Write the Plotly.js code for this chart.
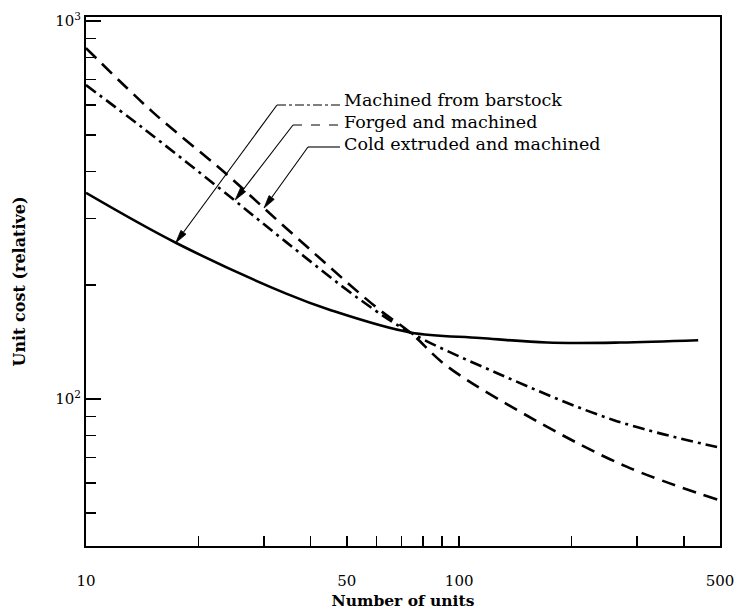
<!DOCTYPE html>
<html>
<head>
<meta charset="utf-8">
<script src="https://cdn.plot.ly/plotly-3.0.1.min.js"></script>
<style>html,body{margin:0;padding:0;background:#fff;}#chart{width:738px;height:615px;}</style>
</head>
<body>
<div id="chart"></div>
<script>
// Data (log-log)
var barstockX = [10, 17.4, 34.4, 45.1, 73.9, 113.8, 172, 270, 437];
var barstockY = [351, 259, 190, 172, 150, 145, 141, 141, 143];

var forgedX = [10, 14.2, 22.7, 34.4, 54.3, 73.9, 126.5, 258.8, 491];
var forgedY = [677, 521, 362, 260, 183, 150, 117, 88, 74.6];

var coldX = [10, 15.1, 23.4, 34.4, 60.3, 73.9, 92.9, 164.8, 282, 494];
var coldY = [848, 574, 399, 283, 174, 150, 122, 86.4, 66.1, 54.1];

var seriesNames = ["Machined from barstock", "Forged and machined", "Cold extruded and machined"];
// arrow tip points on each curve (data values)
var calloutX = [17.4, 25.1, 30.0];
var calloutY = [259, 336, 320];

var xTickVals = [10, 50, 100, 500];
var xTickText = ["10", "50", "100", "500"];
var xMinorVals = [20, 30, 40, 50, 60, 70, 80, 90, 100, 200, 300, 400];
var yTickVals = [100, 1000];
var yTickText = ["10<sup>2</sup>", "10<sup>3</sup>"];
var yMinorVals = [50, 60, 70, 80, 90, 200, 300, 400, 500, 600, 700, 800, 900];

var serif = "DejaVu Serif, Liberation Serif, serif";

var traces = [
  {x: barstockX, y: barstockY, mode: "lines", name: seriesNames[0],
   line: {color: "#000", width: 2.6, shape: "spline", smoothing: 1}},
  {x: forgedX, y: forgedY, mode: "lines", name: seriesNames[1],
   line: {color: "#000", width: 2.6, shape: "spline", smoothing: 1, dash: "12px,5px,3px,5px"}},
  {x: coldX, y: coldY, mode: "lines", name: seriesNames[2],
   line: {color: "#000", width: 2.6, shape: "spline", smoothing: 1, dash: "14px,8px"}}
];

var W = 738, H = 615, L = 86, R = 18, T = 17, B = 69;
var pw = W - L - R, ph = H - T - B;
var XR = [1, Math.log10(500)], YR = [1.611, 3.0106];
function px(x){ return (x - L) / pw; }
function py(y){ return (H - B - y) / ph; }

// callout geometry: bend point (px) and label rows
var bendPX = [[277,105],[293,125],[308,147]];
var labelY = [100, 122, 144];
var leaderDash = ["dashdot", "dash", "solid"];

var annotations = [];
var shapes = [];
for (var i = 0; i < 3; i++) {
  var tx = L + (Math.log10(calloutX[i]) - XR[0]) / (XR[1] - XR[0]) * pw;
  var ty = T + (YR[1] - Math.log10(calloutY[i])) / (YR[1] - YR[0]) * ph;
  var bx = bendPX[i][0], by = bendPX[i][1];
  var dx = tx - bx, dy = ty - by, d = Math.sqrt(dx*dx + dy*dy);
  var ux = dx / d, uy = dy / d, alen = 13, aw = 3.2;
  var baseX = tx - ux*alen, baseY = ty - uy*alen;
  shapes.push({type: "line", xref: "paper", yref: "paper",
    x0: px(bx), y0: py(by), x1: px(baseX), y1: py(baseY),
    line: {color: "#000", width: 1.1}});
  var p1x = baseX - uy*aw, p1y = baseY + ux*aw, p2x = baseX + uy*aw, p2y = baseY - ux*aw;
  shapes.push({type: "path", xref: "paper", yref: "paper",
    path: "M" + px(tx) + "," + py(ty) + " L" + px(p1x) + "," + py(p1y) + " L" + px(p2x) + "," + py(p2y) + " Z",
    fillcolor: "#000", line: {color: "#000", width: 0.8}});
  shapes.push({type: "line", xref: "paper", yref: "paper",
    x0: px(bx), x1: px(340), y0: py(by), y1: py(by),
    line: {color: "#000", width: 1.1, dash: leaderDash[i]}});
  annotations.push({
    xref: "paper", yref: "paper", x: px(342), y: py(labelY[i]),
    xanchor: "left", yanchor: "middle", showarrow: false, text: seriesNames[i],
    font: {family: serif, size: 17.5, color: "#000"}
  });
}

var layout = {
  width: W, height: H,
  margin: {l: L, r: R, t: T, b: B},
  paper_bgcolor: "#fff", plot_bgcolor: "#fff",
  showlegend: false,
  font: {family: serif, color: "#000", size: 14},
  xaxis: {
    type: "log", range: XR,
    title: {text: "<b>Number of units</b>", standoff: 6, font: {family: serif, size: 15.5, color: "#000"}},
    tickmode: "array", tickvals: xTickVals, ticktext: xTickText,
    ticks: "outside", ticklen: 20, tickwidth: 1, tickcolor: "rgba(0,0,0,0)",
    minor: {tickmode: "array", tickvals: xMinorVals, ticks: "inside", ticklen: 10, tickwidth: 1.5, tickcolor: "#000", showgrid: false},
    showgrid: false, zeroline: false,
    showline: true, linecolor: "#000", linewidth: 2, mirror: true,
    tickfont: {family: serif, size: 15, color: "#000"}
  },
  yaxis: {
    type: "log", range: YR,
    title: {text: "<b>Unit cost (relative)</b>", standoff: 26, font: {family: serif, size: 16, color: "#000"}},
    tickmode: "array", tickvals: yTickVals, ticktext: yTickText,
    ticks: "inside", ticklen: 15, tickwidth: 1.5, tickcolor: "#000",
    minor: {tickmode: "array", tickvals: yMinorVals, ticks: "inside", ticklen: 10, tickwidth: 1.5, tickcolor: "#000", showgrid: false},
    showgrid: false, zeroline: false,
    showline: true, linecolor: "#000", linewidth: 2, mirror: true,
    tickfont: {family: serif, size: 15, color: "#000"}
  },
  annotations: annotations,
  shapes: shapes
};

Plotly.newPlot("chart", traces, layout, {displayModeBar: false, staticPlot: true});
</script>
</body>
</html>
